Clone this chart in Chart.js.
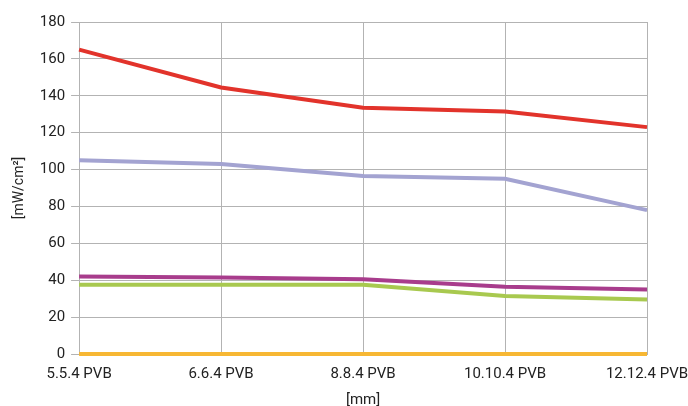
<!DOCTYPE html>
<html>
<head>
<meta charset="utf-8">
<script src="https://cdn.jsdelivr.net/npm/chart.js@4"></script>
<style>
    html, body { margin: 0; padding: 0; background: #fff; }
    #wrap { width: 688px; height: 406px; }
</style>
</head>
<body>
<div id="wrap"><canvas id="chart" width="688" height="406"></canvas></div>
<script>
// categories and values
const categories = ['5.5.4 PVB', '6.6.4 PVB', '8.8.4 PVB', '10.10.4 PVB', '12.12.4 PVB'];
const redSeries = [165, 144.5, 133.5, 131.5, 123];
const lavenderSeries = [105, 103, 96.5, 95, 78];
const purpleSeries = [42, 41.5, 40.5, 36.5, 35];
const greenSeries = [37.5, 37.5, 37.5, 31.5, 29.5];
const orangeSeries = [0, 0, 0, 0, 0];
const yTicks = [0, 20, 40, 60, 80, 100, 120, 140, 160, 180];

const fontFamily = '"Roboto", sans-serif';
const gridColor = '#b3b3b3';

function line(data, color) {
    return {
        data: data,
        borderColor: color,
        backgroundColor: color,
        borderWidth: 4,
        pointRadius: 0,
        tension: 0,
        fill: false,
        clip: false
    };
}

const ctx = document.getElementById('chart').getContext('2d');
new Chart(ctx, {
    type: 'line',
    data: {
        labels: categories,
        datasets: [
            line(orangeSeries, '#f7b733'),
            line(greenSeries, '#a8c94f'),
            line(purpleSeries, '#a83c8c'),
            line(lavenderSeries, '#a3a3d1'),
            line(redSeries, '#e2332b')
        ]
    },
    options: {
        responsive: false,
        animation: false,
        layout: { padding: { top: 22, right: 0, left: 11, bottom: 0 } },
        plugins: { legend: { display: false }, tooltip: { enabled: false } },
        scales: {
            x: {
                offset: false,
                afterFit: (axis) => { axis.paddingRight = 41; },
                grid: { color: gridColor, lineWidth: 1, drawTicks: false },
                border: { color: gridColor },
                ticks: { color: '#222', font: { family: fontFamily, size: 15 }, padding: 11, maxRotation: 0 },
                title: { display: true, text: '[mm]', color: '#222', font: { family: fontFamily, size: 15, lineHeight: 0.8 }, padding: { top: 0, bottom: 0 } }
            },
            y: {
                min: 0,
                max: 180,
                afterBuildTicks: (axis) => { axis.ticks = yTicks.map(v => ({ value: v })); },
                grid: { color: gridColor, lineWidth: 1, tickLength: 8 },
                border: { color: gridColor },
                ticks: { color: '#222', font: { family: fontFamily, size: 15 }, padding: 6 },
                title: { display: true, text: '[mW/cm²]', color: '#222', font: { family: fontFamily, size: 14 }, padding: { top: 0, bottom: 6 } }
            }
        }
    }
});
</script>
</body>
</html>
